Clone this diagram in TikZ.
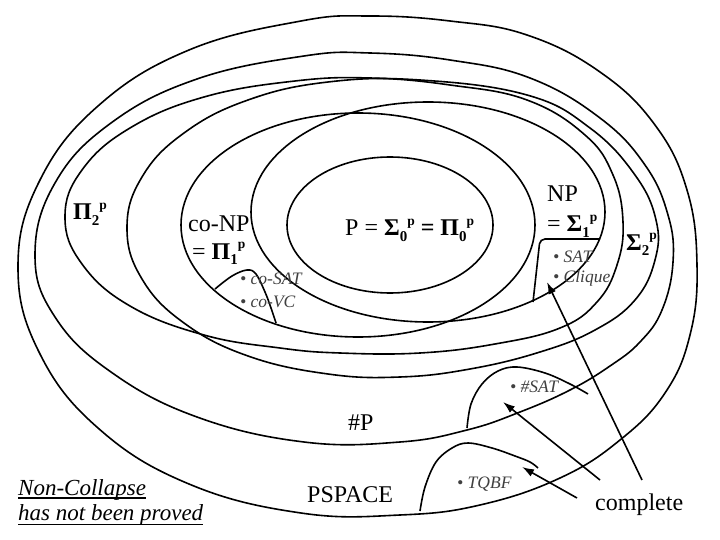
\documentclass[tikz,border=0pt]{standalone}
\usepackage{fontspec}
\setmainfont{Liberation Serif}
\usetikzlibrary{arrows.meta}
\newcommand\lowix[1]{\raisebox{-0.22em}{\fontsize{15}{15}\selectfont\bfseries #1}}
\newcommand\highix[1]{\raisebox{0.42em}{\fontsize{13.5}{14}\selectfont\bfseries #1}}
\begin{document}
\begin{tikzpicture}[x=1pt,y=-1pt,
  curve/.style={line width=1.6pt, line join=round},
  arr/.style={line width=1.6pt, -{Latex[length=12pt,width=8pt]}},
  big/.style={font=\fontsize{24}{26}\selectfont, inner sep=0pt, anchor=base west},
  note/.style={font=\fontsize{23}{25}\selectfont\itshape, inner sep=0pt, anchor=base west},
  small/.style={font=\fontsize{17.5}{19}\selectfont\itshape, text=black!75, inner sep=0pt, anchor=base west}]
\fill[white] (0,0) rectangle (720,540);
\useasboundingbox (0,0) rectangle (720,540);

% PSPACE
\draw[curve] plot[smooth cycle, tension=0.7] coordinates {(18,267) (39,182) (98,106) (189,50) (301,21) (370,16) (450,21) (527,35) (600,72) (655,125) (687,190) (697,265) (690,335) (665,393) (620,440) (560,478) (480,505) (400,515) (301,513) (189,484) (98,428) (39,352)};
% #P
\draw[curve] plot[smooth cycle, tension=0.7] coordinates {(35,255) (55,183) (111,123) (197,79) (304,56) (370,53) (450,60) (530,78) (600,118) (645,165) (668,215) (673,262) (662,310) (640,342) (610,366) (570,390) (520,412) (467,430) (400,442) (304,442) (197,417) (111,372) (55,317)};
% Sigma2
\draw[curve] plot[smooth cycle, tension=0.7] coordinates {(127,228) (142,177) (184,133) (248,100) (328,82) (420,80) (527,95) (590,128) (635,175) (656,220) (655,260) (635,300) (595,330) (540,352) (470,369) (400,377) (328,374) (248,356) (184,323) (142,279)};
% Pi2
\draw[curve] plot[smooth cycle, tension=0.7] coordinates {(65,217) (82,170) (130,128) (204,97) (295,81) (370,78) (450,85) (527,100) (585,135) (613,175) (623,222) (617,265) (597,302) (560,328) (495,344) (420,353) (340,353) (280,348) (204,335) (130,306) (82,264)};
% co-NP, NP, P
\draw[curve] (358,225) ellipse [x radius=177pt, y radius=112pt];
\draw[curve] (428,212) ellipse [x radius=177pt, y radius=110pt];
\draw[curve] (390,225) ellipse [x radius=103pt, y radius=68pt];

% complete sub-regions
\draw[curve] plot[smooth, tension=0.6] coordinates {(215,289) (232,276) (247,270) (256,274) (265,292) (271,308) (276,323)};
\draw[curve, rounded corners=5pt] (533,302) -- (540,239) -- (600,239);
\draw[curve] plot[smooth, tension=0.6] coordinates {(467,428) (471,404) (482,384) (498,371) (517,367) (545,373) (570,384) (588,394)};
\draw[curve] plot[smooth, tension=0.6] coordinates {(420,511) (425,487) (436,462) (452,448) (468,443) (492,448) (515,456) (530,462) (538,468)};

% labels
\node[big] (pi2) at (73,220) {\textbf{Π\lowix{2}\highix{p}}};
\node[big] (conp) at (188,232) {co-NP};
\node[big] (conpeq) at (192,259) {= \textbf{Π\lowix{1}\highix{p}}};
\node[big] (plab) at (345,236) {P = \textbf{Σ\lowix{0}\highix{p} = Π\lowix{0}\highix{p}}};
\node[big] (np) at (547,202) {NP};
\node[big] (npeq) at (547,232) {= \textbf{Σ\lowix{1}\highix{p}}};
\node[big] (sig2) at (626,250) {\textbf{Σ\lowix{2}\highix{p}}};
\node[big] (sharpP) at (348,430) {\#P};
\node[big] (pspace) at (307,502) {PSPACE};
\node[big] (complete) at (595,510) {complete};

\node[small] (cosat) at (240,284) {• co-SAT};
\node[small] (covc) at (240,307) {• co-VC};
\node[small] (sat) at (553,262) {• SAT};
\node[small] (clique) at (553,282) {• Clique};
\node[small] (ssat) at (510,392) {• \#SAT};
\node[small] (tqbf) at (457,488) {• TQBF};

\node[note] (nc) at (18,495) {Non-Collapse};
\node[note] (hnb) at (18,520) {has not been proved};
\draw[line width=1.3pt] ([yshift=-3pt]nc.base west) -- ([yshift=-3pt]nc.base east);
\draw[line width=1.3pt] ([yshift=-4.5pt]hnb.base west) -- ([yshift=-4.5pt]hnb.base east);

% arrows
\coordinate (a1) at (577,498);
\coordinate (a2) at (600,480);
\coordinate (a3) at (642,480);
\coordinate (t1) at (522,467);
\coordinate (t2) at (503,402);
\coordinate (t3) at (547,282);
\draw[arr] (a1) -- (t1);
\draw[arr] (a2) -- (t2);
\draw[arr] (a3) -- (t3);
\end{tikzpicture}
\end{document}
